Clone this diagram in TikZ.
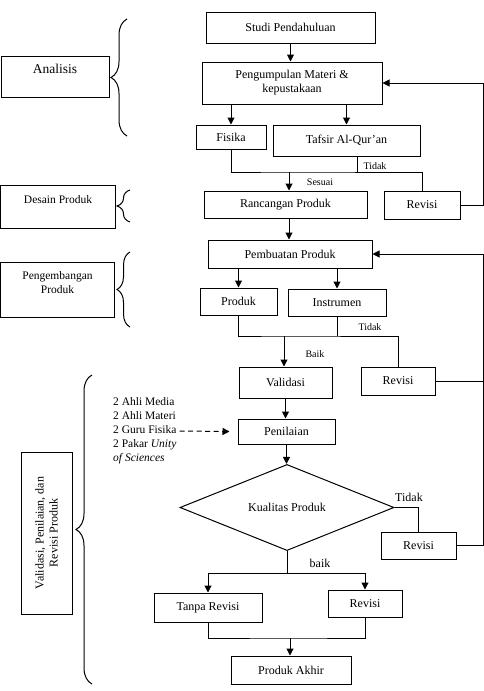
\documentclass[tikz,border=0pt]{standalone}
\usepackage{fontspec}
\setmainfont{Liberation Serif}
\usepackage{tikz}
\usetikzlibrary{positioning}
\usetikzlibrary{arrows.meta}
\usetikzlibrary{shapes.geometric}
\usetikzlibrary{decorations.pathreplacing}

\tikzset{
    kotak/.style={draw, rectangle, line width=1pt, inner sep=2pt, align=center, font=\fontsize{12}{14}\selectfont},
    ket/.style={font=\fontsize{10}{12}\selectfont, inner sep=1pt},
    kurung/.style={decorate, decoration={brace, amplitude=#1}, line width=1pt},
    kurung/.default=16pt,
    panah/.style={-{Triangle[length=7pt, width=7pt]}, line width=1pt},
    garis/.style={line width=1pt}
}

\begin{document}
\begin{tikzpicture}[x=1pt, y=-1pt]
                \useasboundingbox (0,0) rectangle (484,691);

                \node[kotak, minimum width=108pt, minimum height=41pt, font=\fontsize{13.5}{15}\selectfont] (analisis) at (55,76.5) {Analisis\\\mbox{}};
                \node[kotak, minimum width=115pt, minimum height=43pt, font=\fontsize{11.5}{13}\selectfont] (desain) at (58,206.5) {Desain Produk\\\mbox{}};
                \node[kotak, minimum width=114pt, minimum height=55pt, font=\fontsize{11.5}{14}\selectfont] (kembang) at (57.5,289.5) {Pengembangan\\Produk\\\mbox{}};
                \node[kotak, rotate=90, minimum width=162pt, minimum height=51pt] (vpr) at (46.5,533) {Validasi, Penilaian, dan\\Revisi Produk};

                \draw[kurung] (127,136) -- (127,19);
                \draw[kurung=13pt] (130,222) -- (130,190);
                \draw[kurung=13pt] (130,327) -- (130,252);
                \draw[kurung] (92,684) -- (92,375);

                \node[kotak, minimum width=169pt, minimum height=31pt] (studi) at (290.5,27.5) {Studi Pendahuluan};
                \node[kotak, minimum width=180pt, minimum height=42pt] (kumpul) at (292,83) {Pengumpulan Materi \&\\kepustakaan};
                \node[kotak, minimum width=70pt, minimum height=24pt] (fisika) at (231,137) {Fisika};
                \node[kotak, minimum width=147pt, minimum height=31pt] (tafsir) at (346.5,140.5) {Tafsir Al-Qur'an};
                \node[kotak, minimum width=163pt, minimum height=27pt] (rancang) at (285.5,204.5) {Rancangan Produk};
                \node[kotak, minimum width=76pt, minimum height=28pt] (revisiA) at (422,205) {Revisi};
                \node[kotak, minimum width=164pt, minimum height=28pt] (buat) at (290,254) {Pembuatan Produk};
                \node[kotak, minimum width=77pt, minimum height=27pt] (produk) at (238.5,301.5) {Produk};
                \node[kotak, minimum width=98pt, minimum height=27pt] (instrumen) at (337,302.5) {Instrumen};
                \node[kotak, minimum width=93pt, minimum height=31pt] (validasi) at (285.5,382.5) {Validasi};
                \node[kotak, minimum width=74pt, minimum height=28pt] (revisiB) at (398,381) {Revisi};
                \node[kotak, minimum width=97pt, minimum height=25pt] (penilaian) at (286.5,431.5) {Penilaian};
                \node[kotak, diamond, minimum width=214pt, minimum height=85pt, inner sep=0pt] (kualitas) at (287,507.5) {Kualitas Produk};
                \node[kotak, minimum width=75pt, minimum height=27pt] (revisiC) at (418.5,545.5) {Revisi};
                \node[kotak, minimum width=108pt, minimum height=29pt] (tanpa) at (208,607.5) {Tanpa Revisi};
                \node[kotak, minimum width=74pt, minimum height=27pt] (revisiD) at (365,603.5) {Revisi};
                \node[kotak, minimum width=120pt, minimum height=28pt] (akhir) at (291,670) {Produk Akhir};

                \node[anchor=west, align=left, inner sep=0pt, font=\fontsize{11.5}{14}\selectfont] (pakar) at (113,431) {2 Ahli Media\\2 Ahli Materi\\2 Guru Fisika\\2 Pakar \textit{Unity}\\\textit{of Sciences}};

                \node[ket] (tidakA) at (375,166) {Tidak};
                \node[ket] (sesuai) at (320,182) {Sesuai};
                \node[ket] (tidakB) at (370,327) {Tidak};
                \node[ket] (baikA) at (315,354) {Baik};
                \node[ket, font=\fontsize{12}{14}\selectfont] (tidakC) at (409,497) {Tidak};
                \node[ket, font=\fontsize{12}{14}\selectfont] (baikB) at (320,563) {baik};

                \coordinate (kanan) at (483,0);
                \coordinate (pisahA) at (289,172);
                \coordinate (pisahB) at (284,336);
                \coordinate (pisahC) at (287,573);
                \coordinate (gabung) at (290,638);

                \draw[panah] (studi.south) -- (studi.south |- kumpul.north);
                \draw[panah] (kumpul.south -| fisika) -- (fisika.north);
                \draw[panah] (kumpul.south -| tafsir) -- (tafsir.north);
                \draw[garis] (fisika.south) |- (pisahA) -| (revisiA.north);
                \draw[garis] ([xshift=11pt]tafsir.south) -- ([xshift=11pt]tafsir.south |- pisahA);
                \draw[panah] (pisahA) -- (pisahA |- rancang.north);
                \draw[panah] (revisiA.east) -- (revisiA.east -| kanan) |- (kumpul.east);
                \draw[panah] (pisahA |- rancang.south) -- (pisahA |- buat.north);

                \draw[panah] (buat.south -| produk) -- (produk.north);
                \draw[panah] (buat.south -| instrumen) -- (instrumen.north);
                \draw[garis] (produk.south) |- (pisahB) -| (revisiB.north);
                \draw[garis] (instrumen.south) -- (instrumen.south |- pisahB);
                \draw[panah] (pisahB) -- (pisahB |- validasi.north);
                \draw[garis] (revisiB.east) -- (revisiB.east -| kanan);
                \draw[panah] (revisiC.east) -- (revisiC.east -| kanan) |- (buat.east);

                \draw[panah] (validasi.south) -- (validasi.south |- penilaian.north);
                \draw[panah, dash pattern=on 5pt off 3.5pt] ([xshift=3pt]pakar.east) -- ([xshift=-8pt]penilaian.west);
                \draw[panah] (penilaian.south) -- (penilaian.south |- kualitas.north);
                \draw[garis] (kualitas.east) -| (revisiC.north);
                \draw[garis] (kualitas.south) -- (kualitas.south |- pisahC);
                \draw[panah] (pisahC) -| (tanpa.north);
                \draw[panah] (pisahC) -| (revisiD.north);
                \draw[garis] (tanpa.south) |- (gabung) -| (revisiD.south);
                \draw[panah] (gabung) -- (gabung |- akhir.north);
\end{tikzpicture}
\end{document}
